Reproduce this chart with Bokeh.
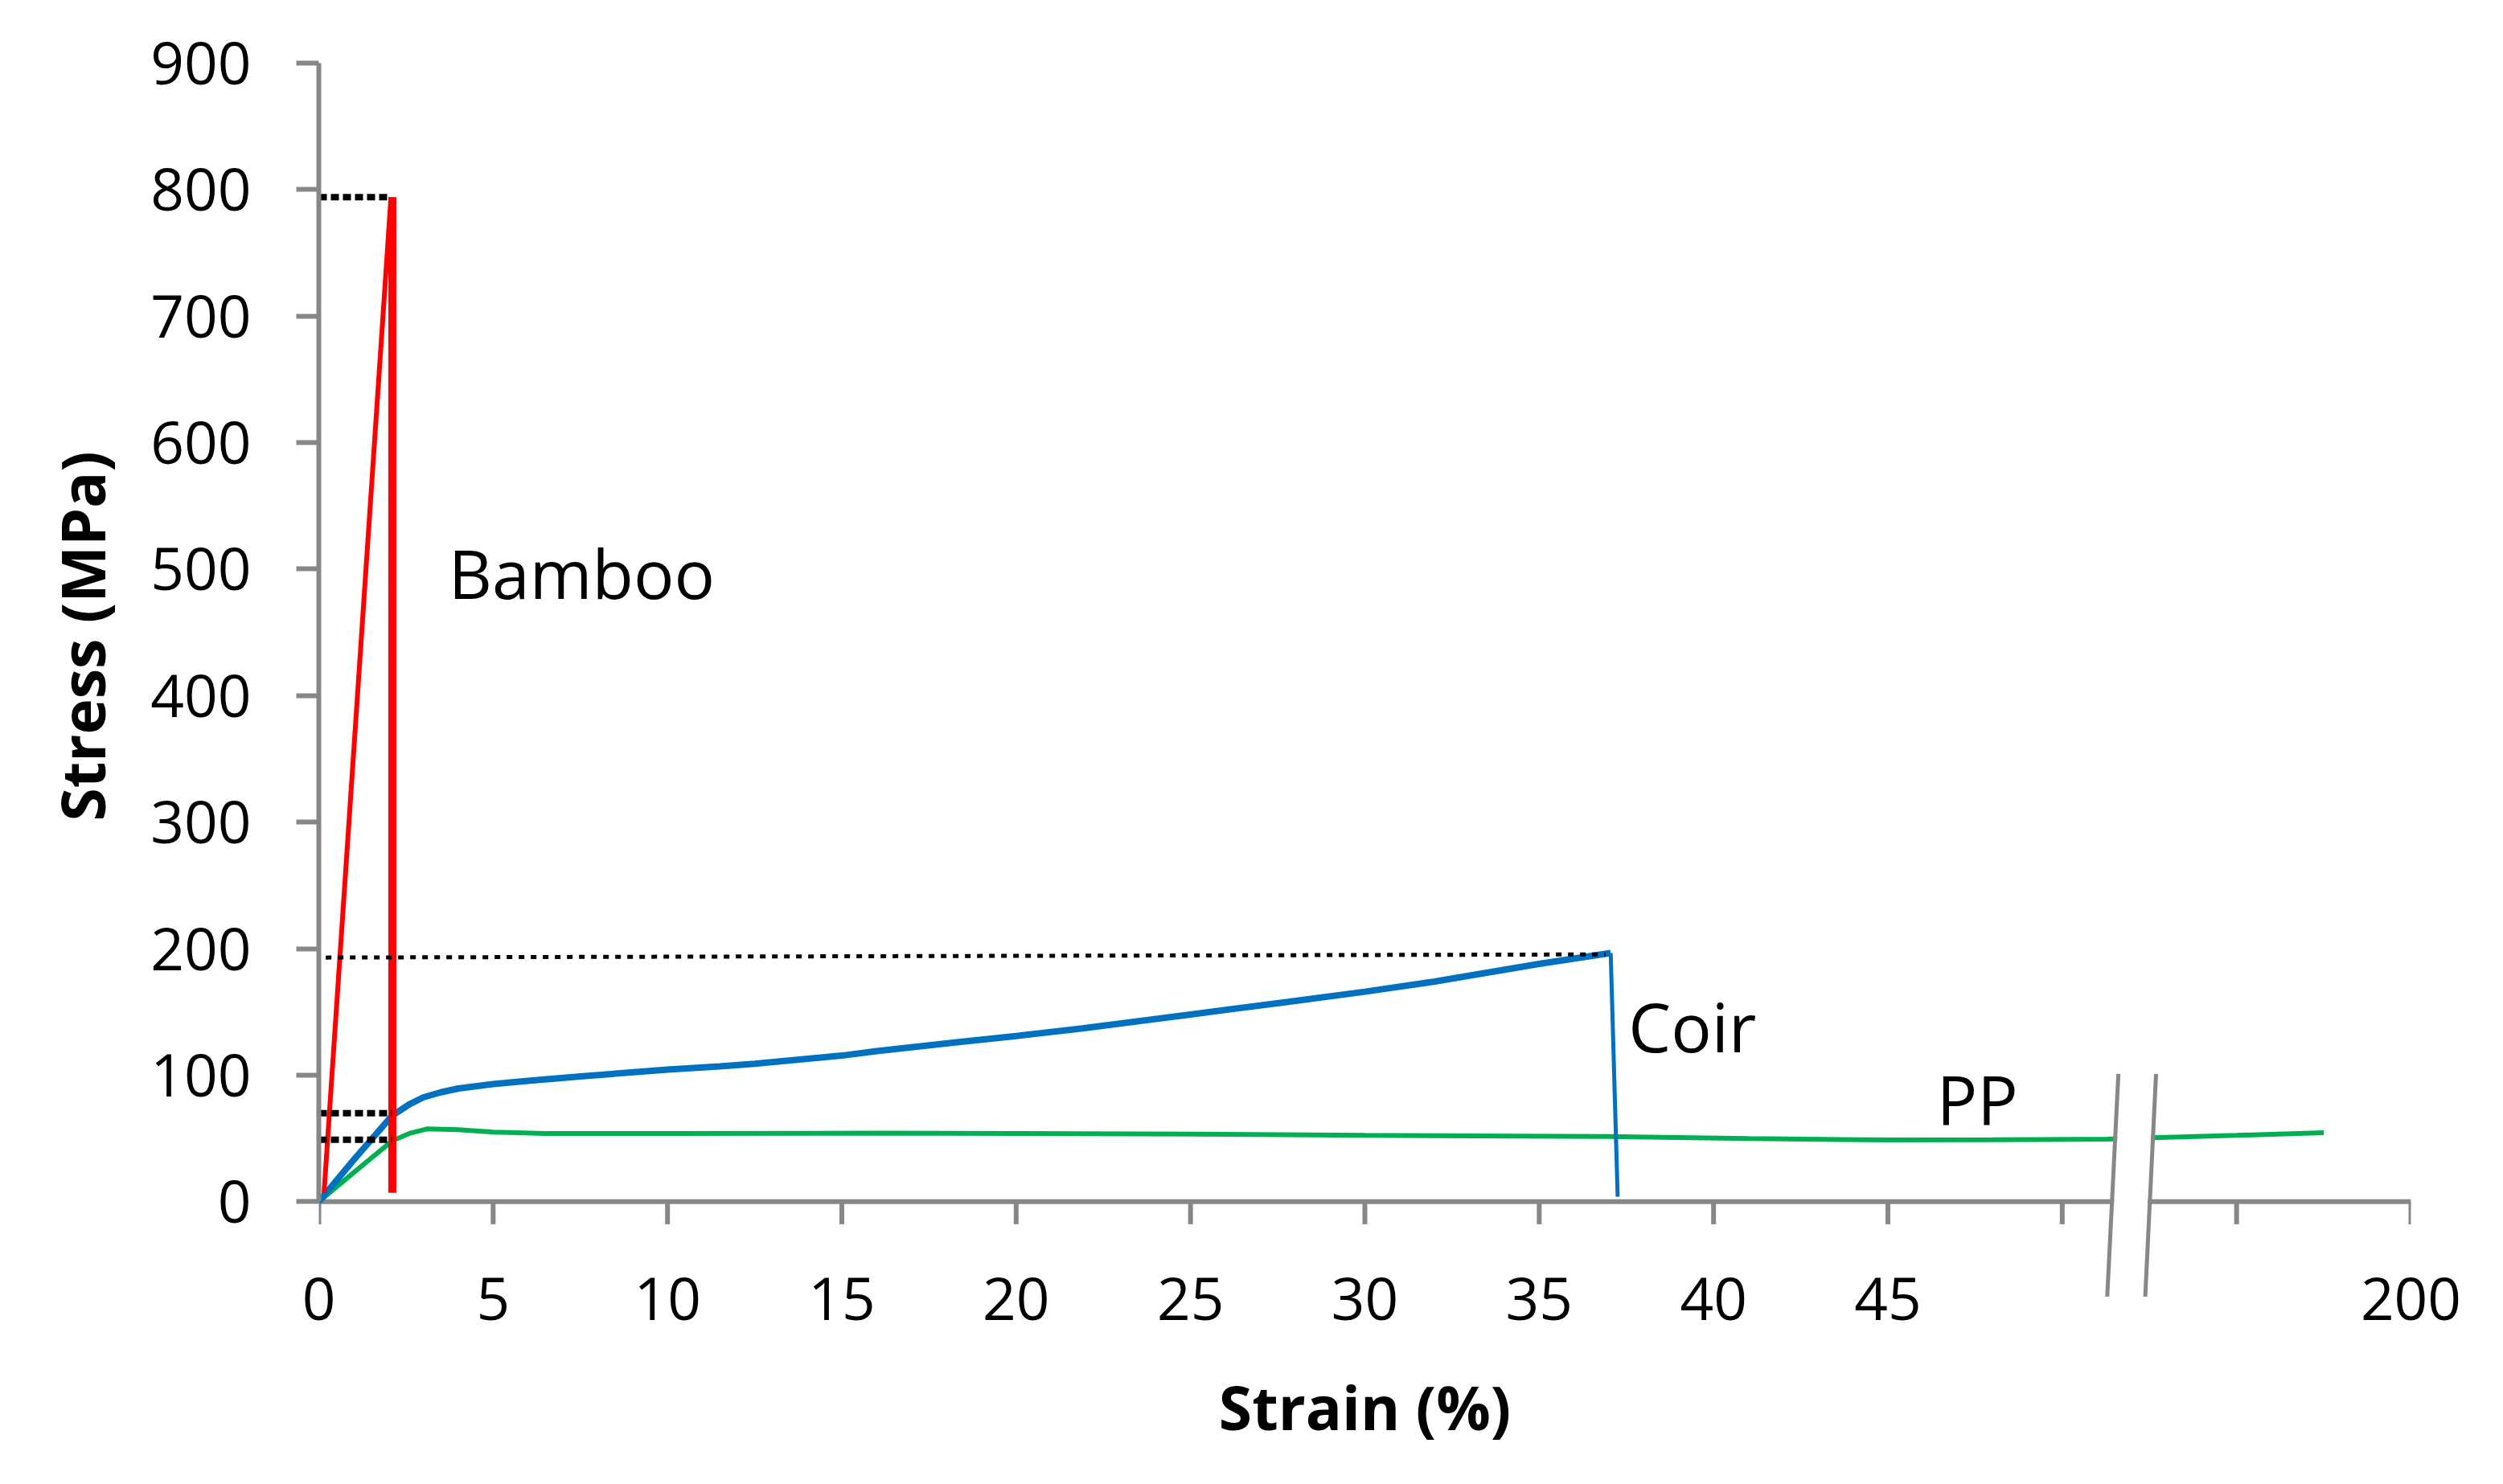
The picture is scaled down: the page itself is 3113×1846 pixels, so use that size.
from bokeh.plotting import figure
from bokeh.models import Range1d, FixedTicker, Title
from bokeh.embed import file_html
from bokeh.resources import INLINE
from bokeh.core.properties import value

# ---- data (x in axis positions; 0-50 = strain %, beyond the break the axis ends at 200) ----
x_ticks = [0, 5, 10, 15, 20, 25, 30, 35, 40, 45, 50, 55, 60]
x_tick_labels = {50: "", 55: "", 60: "200"}
y_ticks = [0, 100, 200, 300, 400, 500, 600, 700, 800, 900]

bamboo_rise_strain = [0.15, 2.07]
bamboo_rise_stress = [7, 794]
bamboo_drop_strain = [2.11, 2.11]
bamboo_drop_stress = [794, 7]

coir_strain = [0, 1, 2.1, 2.6, 3, 3.5, 4, 5, 6, 7.5, 10, 11.5, 12.5, 15, 16, 18.3,
               20, 21.9, 25, 27.8, 30, 32, 33.7, 35, 37.05]
coir_stress = [0, 33, 68, 77, 82.5, 86.5, 89.5, 93, 95.5, 99, 104.5, 107, 109, 115.5, 119, 126,
               131, 137, 148, 158, 166, 174, 182, 188, 196.6]
coir_drop_strain = [37.05, 37.25]
coir_drop_stress = [196.6, 4]

pp_strain = [0, 1, 2.1, 2.6, 3.1, 4, 5, 6.5, 10, 16, 20, 25, 30, 37, 41, 45, 48, 51.3,
             52.4, 55, 57.5]
pp_stress = [0, 23, 48, 54, 57.5, 57, 55, 54, 54, 54.2, 54, 53.5, 52.5, 51.5, 50, 48.8, 49, 49.5,
             50.5, 52.5, 54.5]

# reference (dotted) lines
ref_bamboo_x = [0, 2.0]
ref_bamboo_y = [794, 794]
ref_coir_low_x = [0, 2.1]
ref_coir_low_y = [70, 70]
ref_pp_low_x = [0, 2.1]
ref_pp_low_y = [49, 49]
ref_coir_peak_x = [0.2, 36.9]
ref_coir_peak_y = [193, 195.5]

# curve names
names = ["Bamboo", "Coir", "PP"]
name_x = [3.72, 37.56, 46.4]
name_y = [497, 139, 81]

# axis break geometry
break1_x = [51.61, 51.29]
break2_x = [52.69, 52.38]
break_y = [101, -75]

GRAY = "#878787"
FONT = "Open Sans"
Y_MIN, Y_MAX = -90, 900
TICK_LEN = 17.8  # x tick length in stress units (about 28 px)

p = figure(width=3097, height=1830, output_backend="svg", toolbar_location=None,
           x_range=Range1d(0, 60), y_range=Range1d(Y_MIN, Y_MAX),
           min_border_left=396, min_border_right=99, min_border_top=78, min_border_bottom=194)
p.outline_line_color = None
p.xgrid.visible = False
p.ygrid.visible = False
p.background_fill_color = "white"
p.border_fill_color = "white"

for ax in (p.xaxis[0], p.yaxis[0]):
    ax.axis_line_color = GRAY
    ax.axis_line_width = 6
    ax.major_tick_line_color = GRAY
    ax.major_tick_line_width = 6
    ax.major_tick_in = 0
    ax.major_tick_out = 28
    ax.minor_tick_line_color = None
    ax.major_label_text_font = FONT
    ax.major_label_text_font_size = "73px"
    ax.major_label_text_color = "black"
    ax.axis_label_text_font = FONT
    ax.axis_label_text_font_size = "75px"
    ax.axis_label_text_font_style = "bold"
    ax.axis_label_text_color = "black"

# x axis: labels from the Bokeh axis, its line and ticks drawn at stress = 0 below
p.xaxis.ticker = FixedTicker(ticks=x_ticks)
p.xaxis.major_label_overrides = x_tick_labels
p.xaxis.axis_line_color = None
p.xaxis.major_tick_line_color = None
p.xaxis.major_tick_out = 0
p.xaxis.major_label_standoff = -48
p.xaxis.axis_label = "Strain (%)"
p.xaxis.axis_label_standoff = 54

p.yaxis.ticker = FixedTicker(ticks=y_ticks)
p.yaxis.bounds = (0, Y_MAX)
p.yaxis.major_label_standoff = 56

# y axis title, placed along the 0-900 span of the axis
p.add_layout(Title(text="Stress (MPa)", align="left", offset=615, standoff=64,
                   text_font=FONT, text_font_size="75px", text_font_style="bold",
                   text_color="black"), "left")

# x axis line and ticks at stress = 0
p.line([x_ticks[0], x_ticks[-1]], [0, 0], line_color=GRAY, line_width=6)
p.segment(x0=x_ticks, y0=[0] * len(x_ticks), x1=x_ticks, y1=[-TICK_LEN] * len(x_ticks),
          line_color=GRAY, line_width=6)

# curves
p.line(pp_strain, pp_stress, line_color="#00B050", line_width=6)
p.line(coir_strain, coir_stress, line_color="#0070C0", line_width=8)
p.line(coir_drop_strain, coir_drop_stress, line_color="#0070C0", line_width=5)
p.line(bamboo_rise_strain, bamboo_rise_stress, line_color="#FF0000", line_width=6)
p.line(bamboo_drop_strain, bamboo_drop_stress, line_color="#FF0000", line_width=10)

# dotted guide lines
p.line(ref_bamboo_x, ref_bamboo_y, line_color="black", line_width=8, line_dash="10 5")
p.line(ref_coir_low_x, ref_coir_low_y, line_color="black", line_width=8, line_dash="10 5")
p.line(ref_pp_low_x, ref_pp_low_y, line_color="black", line_width=8, line_dash="10 5")
p.line(ref_coir_peak_x, ref_coir_peak_y, line_color="black", line_width=5, line_dash="7 8")

# labels
p.text(name_x, name_y, text=names, text_font=value(FONT), text_font_size="84px",
       text_color="black", text_align="left", text_baseline="alphabetic")

# axis break: white gap and two slanted marks
p.patch([break1_x[0] + 0.06, break2_x[0] - 0.06, break2_x[1] - 0.06, break1_x[1] + 0.06],
        [break_y[0], break_y[0], break_y[1], break_y[1]],
        fill_color="white", line_color=None)
p.line(break1_x, break_y, line_color=GRAY, line_width=5)
p.line(break2_x, break_y, line_color=GRAY, line_width=5)

open("out.html", "w").write(file_html(p, INLINE))
